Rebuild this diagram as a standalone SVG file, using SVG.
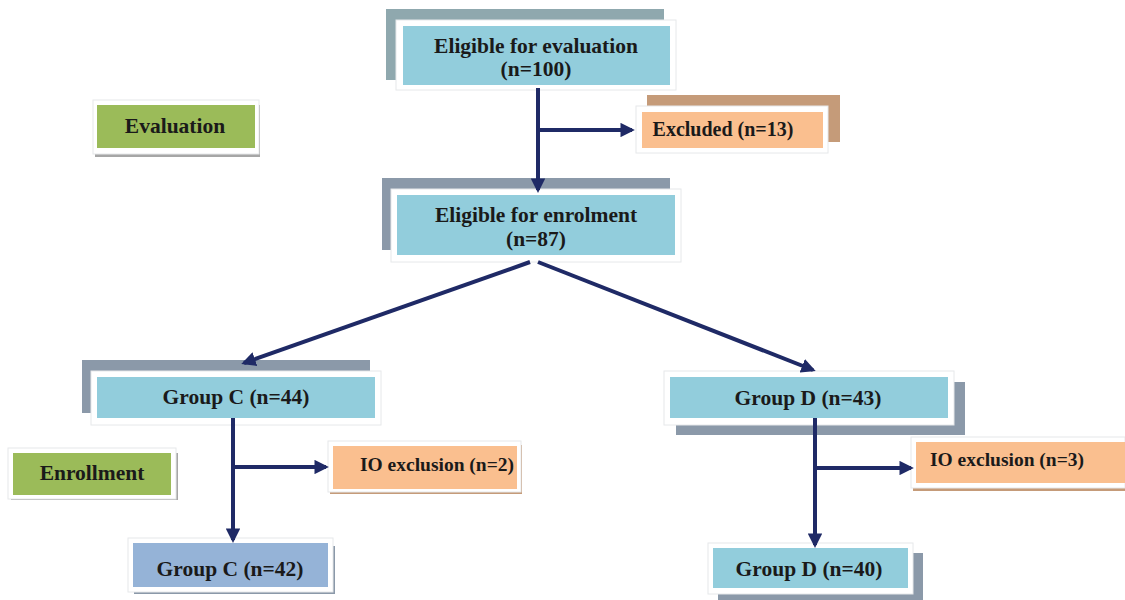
<svg xmlns="http://www.w3.org/2000/svg" width="1125" height="600" viewBox="0 0 1125 600">
<defs>
<style>
.t{font-family:'Liberation Serif','Times New Roman',serif;font-weight:700;font-size:21.5px;fill:#1a1a1a;text-anchor:middle}
.s20{font-size:20px}
.s19{font-size:19.5px}
.frame{fill:#ffffff;stroke:#e6e8ea;stroke-width:1}
.blue{fill:#92CDDC}
.orange{fill:#FABF8F}
.green{fill:#9BBB59}
.steel{fill:#95B3D7}
.sh1{fill:#8FA8AE}
.sh2{fill:#8B99A9}
.brown{fill:#C59B79}
.conn{stroke:#1F2A66;stroke-width:4;fill:none}
</style>
<marker id="ah" viewBox="0 0 10 10" refX="8" refY="5" markerWidth="3.6" markerHeight="3.6" orient="auto" markerUnits="strokeWidth">
<path d="M0,0 L10,5 L0,10 Z" fill="#1F2A66"/>
</marker>
</defs>
<rect width="1125" height="600" fill="#ffffff"/>

<g id="node-eval-eligible">
<rect class="sh1" x="386" y="9" width="278" height="71"/>
<rect class="frame" x="396" y="20" width="280" height="70"/>
<rect class="blue" x="403" y="26" width="267" height="59"/>
<text class="t" x="536" y="53">Eligible for evaluation</text>
<text class="t" x="536" y="76">(n=100)</text>
</g>

<g id="node-excluded">
<rect class="brown" x="647" y="95" width="193" height="47"/>
<rect class="frame" x="636" y="106" width="192" height="47"/>
<rect class="orange" x="642" y="112" width="181" height="36"/>
<text class="t s20" x="723" y="136">Excluded (n=13)</text>
</g>

<g id="node-evaluation">
<rect fill="#a6a6a6" x="95" y="105" width="165" height="52"/>
<rect class="frame" x="93" y="100" width="166" height="54"/>
<rect class="green" x="97" y="105" width="158" height="43"/>
<text class="t" x="175" y="133">Evaluation</text>
</g>

<g id="node-enrol-eligible">
<rect class="sh2" x="382" y="178" width="288" height="72"/>
<rect class="frame" x="391" y="189" width="290" height="73"/>
<rect class="blue" x="397" y="195" width="278" height="60"/>
<text class="t" x="536" y="222">Eligible for enrolment</text>
<text class="t" x="536" y="246">(n=87)</text>
</g>

<g id="node-groupc44">
<rect class="sh2" x="82" y="360" width="288" height="53"/>
<rect class="frame" x="91" y="371" width="290" height="54"/>
<rect class="blue" x="97" y="377" width="278" height="41"/>
<text class="t" x="236" y="404">Group C (n=44)</text>
</g>

<g id="node-groupd43">
<rect class="sh2" x="676" y="382" width="289" height="53"/>
<rect class="frame" x="664" y="371" width="290" height="54"/>
<rect class="blue" x="670" y="377" width="278" height="41"/>
<text class="t" x="808" y="405">Group D (n=43)</text>
</g>

<g id="node-enrollment">
<rect fill="#a6a6a6" x="11" y="453" width="167" height="47"/>
<rect class="frame" x="8" y="448" width="168" height="51"/>
<rect class="green" x="13" y="453" width="158" height="42"/>
<text class="t" x="92" y="480">Enrollment</text>
</g>

<g id="node-io2">
<rect class="brown" x="330" y="445" width="192" height="49"/>
<rect class="frame" x="328" y="441" width="193" height="51"/>
<rect class="orange" x="333" y="446" width="184" height="43"/>
<text class="t s19" x="437" y="471">IO exclusion (n=2)</text>
</g>

<g id="node-io3">
<rect class="brown" x="913" y="445" width="212" height="46"/>
<rect class="frame" x="911" y="437" width="214" height="51"/>
<rect class="orange" x="916" y="442" width="209" height="41"/>
<text class="t s19" x="1007" y="466">IO exclusion (n=3)</text>
</g>

<g id="node-groupc42">
<rect class="sh2" x="134" y="546" width="201" height="48"/>
<rect class="frame" x="128" y="538" width="205" height="54"/>
<rect class="steel" x="133" y="543" width="195" height="44"/>
<text class="t" x="230" y="576">Group C (n=42)</text>
</g>

<g id="node-groupd40">
<rect class="sh2" x="718" y="553" width="205" height="47"/>
<rect class="frame" x="708" y="543" width="205" height="51"/>
<rect class="blue" x="713" y="548" width="195" height="40"/>
<text class="t" x="809" y="576">Group D (n=40)</text>
</g>

<g id="connectors">
<line class="conn" x1="538" y1="88" x2="538" y2="190" marker-end="url(#ah)"/>
<line class="conn" x1="538" y1="130" x2="632" y2="130" marker-end="url(#ah)"/>
<line class="conn" x1="530" y1="262" x2="244" y2="363" marker-end="url(#ah)"/>
<line class="conn" x1="538" y1="262" x2="813" y2="370" marker-end="url(#ah)"/>
<line class="conn" x1="233" y1="418" x2="233" y2="540" marker-end="url(#ah)"/>
<line class="conn" x1="233" y1="467" x2="326" y2="467" marker-end="url(#ah)"/>
<line class="conn" x1="815" y1="418" x2="815" y2="545" marker-end="url(#ah)"/>
<line class="conn" x1="815" y1="468" x2="911" y2="468" marker-end="url(#ah)"/>
</g>
</svg>
